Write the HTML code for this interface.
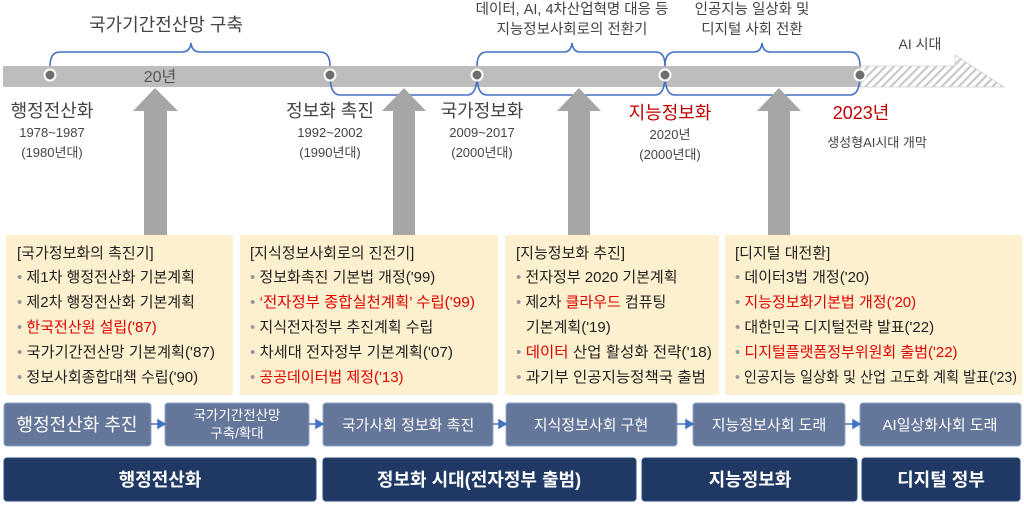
<!DOCTYPE html>
<html><head><meta charset="utf-8"><style>
body{margin:0;width:1024px;height:506px;background:#fff;overflow:hidden;font-family:"Liberation Sans","Noto Sans CJK KR",sans-serif}
svg text{font-family:"Liberation Sans","Noto Sans CJK KR",sans-serif}
</style></head><body>
<svg width="1024" height="506" viewBox="0 0 1024 506" xmlns="http://www.w3.org/2000/svg">
<defs>
<pattern id="h" width="6" height="6" patternUnits="userSpaceOnUse" patternTransform="rotate(45)">
<rect width="6" height="6" fill="#fff"/><rect width="2.2" height="6" fill="#c8c8c8"/></pattern>
</defs>
<rect x="3" y="66" width="858" height="21" fill="#bdbdbd"/>
<polygon points="861,66 955,66 955,55 1004,87 861,87" fill="url(#h)" stroke="#d0d0d0" stroke-width="0.8"/>
<g fill="none" stroke="#4472c4" stroke-width="1.6">
<path d="M50,66 Q50,52 60,52 L182,52 Q190,52 191,43 Q192,52 200,52 L320,52 Q330,52 330,66"/>
<path d="M477,66 Q477,52 487,52 L564,52 Q571,52 572,43 Q573,52 580,52 L656,52 Q665,52 665,66"/>
<path d="M665,66 Q665,52 675,52 L754,52 Q761,52 762,43 Q763,52 770,52 L850,52 Q860,52 860,66"/>
<path d="M330,75 Q330,95 340,95 L467,95 Q477,95 477,75"/>
<path d="M477,75 Q477,95 487,95 L655,95 Q665,95 665,75"/>
<path d="M665,75 Q665,95 675,95 L850,95 Q860,95 860,75"/>
</g>
<g fill="#6e6e6e" stroke="#fff" stroke-width="2">
<circle cx="50" cy="75" r="5.5"/><circle cx="330" cy="75" r="5.5"/><circle cx="477" cy="75" r="5.5"/><circle cx="665" cy="75" r="5.5"/><circle cx="860" cy="75" r="5.5"/>
</g>
<g fill="#444" text-anchor="middle">
<text x="166" y="31" font-size="18">국가기간전산망 구축</text>
<text x="160" y="82" font-size="16" fill="#555">20년</text>
<text x="572" y="14" font-size="14.5">데이터, AI, 4차산업혁명 대응 등</text>
<text x="572" y="34" font-size="14.5">지능정보사회로의 전환기</text>
<text x="752" y="14" font-size="14.5">인공지능 일상화 및</text>
<text x="752" y="34" font-size="14.5">디지털 사회 전환</text>
<text x="920" y="49" font-size="14">AI 시대</text>
<text x="52" y="117" font-size="18">행정전산화</text>
<text x="52" y="137" font-size="13">1978~1987</text>
<text x="52" y="157" font-size="13">(1980년대)</text>
<text x="330" y="117" font-size="18">정보화 촉진</text>
<text x="330" y="137" font-size="13">1992~2002</text>
<text x="330" y="157" font-size="13">(1990년대)</text>
<text x="482" y="117" font-size="18">국가정보화</text>
<text x="482" y="137" font-size="13">2009~2017</text>
<text x="482" y="157" font-size="13">(2000년대)</text>
<text x="670" y="119" font-size="18" fill="#c00000">지능정보화</text>
<text x="670" y="139" font-size="13">2020년</text>
<text x="670" y="159" font-size="13">(2000년대)</text>
<text x="861" y="119" font-size="18" fill="#c00000">2023년</text>
<text x="877" y="147" font-size="13">생성형AI시대 개막</text>
</g>
<g fill="#a6a6a6">
<polygon points="133,111 155,88 178,111 167,111 167,236 144,236 144,111"/>
<polygon points="382,111 404,88 426,111 415,111 415,236 393,236 393,111"/>
<polygon points="557,111 579,88 601,111 590,111 590,236 568,236 568,111"/>
<polygon points="757,111 779,88 801,111 790,111 790,236 768,236 768,111"/>
</g>
<g fill="#fdf0cf">
<rect x="6" y="235" width="227" height="160"/><rect x="240" y="235" width="258" height="160"/>
<rect x="505" y="235" width="214" height="160"/><rect x="725" y="235" width="297" height="160"/>
</g>
<g font-size="15" fill="#222">
<text x="17" y="258">[국가정보화의 촉진기]</text>
<text x="17" y="282"><tspan fill="#999">• </tspan>제1차 행정전산화 기본계획</text>
<text x="17" y="307"><tspan fill="#999">• </tspan>제2차 행정전산화 기본계획</text>
<text x="17" y="332"><tspan fill="#999">• </tspan><tspan fill="#e00000">한국전산원 설립('87)</tspan></text>
<text x="17" y="357" textLength="198" lengthAdjust="spacingAndGlyphs"><tspan fill="#999">• </tspan>국가기간전산망 기본계획('87)</text>
<text x="17" y="382"><tspan fill="#999">• </tspan>정보사회종합대책 수립('90)</text>

<text x="250" y="258">[지식정보사회로의 진전기]</text>
<text x="250" y="282"><tspan fill="#999">• </tspan>정보화촉진 기본법 개정('99)</text>
<text x="250" y="307" textLength="225" lengthAdjust="spacingAndGlyphs"><tspan fill="#999">• </tspan><tspan fill="#e00000">‘전자정부 종합실천계획’ 수립('99)</tspan></text>
<text x="250" y="332"><tspan fill="#999">• </tspan>지식전자정부 추진계획 수립</text>
<text x="250" y="357" textLength="203" lengthAdjust="spacingAndGlyphs"><tspan fill="#999">• </tspan>차세대 전자정부 기본계획('07)</text>
<text x="250" y="382"><tspan fill="#999">• </tspan><tspan fill="#e00000">공공데이터법 제정('13)</tspan></text>

<text x="516" y="258">[지능정보화 추진]</text>
<text x="516" y="282"><tspan fill="#999">• </tspan>전자정부 2020 기본계획</text>
<text x="516" y="307"><tspan fill="#999">• </tspan>제2차 <tspan fill="#e00000">클라우드</tspan> 컴퓨팅</text>
<text x="526" y="332">기본계획('19)</text>
<text x="516" y="357" textLength="196" lengthAdjust="spacingAndGlyphs"><tspan fill="#999">• </tspan><tspan fill="#e00000">데이터</tspan> 산업 활성화 전략('18)</text>
<text x="516" y="382" textLength="190" lengthAdjust="spacingAndGlyphs"><tspan fill="#999">• </tspan>과기부 인공지능정책국 출범</text>

<text x="735" y="258">[디지털 대전환]</text>
<text x="735" y="282"><tspan fill="#999">• </tspan>데이터3법 개정('20)</text>
<text x="735" y="307"><tspan fill="#999">• </tspan><tspan fill="#e00000">지능정보화기본법 개정('20)</tspan></text>
<text x="735" y="332"><tspan fill="#999">• </tspan>대한민국 디지털전략 발표('22)</text>
<text x="735" y="357"><tspan fill="#999">• </tspan><tspan fill="#e00000">디지털플랫폼정부위원회 출범('22)</tspan></text>
<text x="735" y="382" textLength="282" lengthAdjust="spacingAndGlyphs"><tspan fill="#999">• </tspan>인공지능 일상화 및 산업 고도화 계획 발표('23)</text>
</g>
<g fill="#64779b" stroke="#8fa3c8" stroke-width="1">
<rect x="4" y="403" width="147" height="43" rx="3"/><rect x="165" y="403" width="144" height="43" rx="3"/>
<rect x="323" y="403" width="170" height="43" rx="3"/><rect x="506" y="403" width="171" height="43" rx="3"/>
<rect x="693" y="403" width="152" height="43" rx="3"/><rect x="860" y="403" width="161" height="43" rx="3"/>
</g>
<g stroke="#4472c4" stroke-width="1.5" fill="#4472c4">
<line x1="151" y1="424" x2="160" y2="424"/><polygon points="158,420 165,424 158,428"/>
<line x1="309" y1="424" x2="318" y2="424"/><polygon points="316,420 323,424 316,428"/>
<line x1="493" y1="424" x2="501" y2="424"/><polygon points="499,420 506,424 499,428"/>
<line x1="677" y1="424" x2="688" y2="424"/><polygon points="686,420 693,424 686,428"/>
<line x1="845" y1="424" x2="855" y2="424"/><polygon points="853,420 860,424 853,428"/>
</g>
<g fill="#fff" text-anchor="middle">
<text x="77" y="431" font-size="18">행정전산화 추진</text>
<text x="237" y="420" font-size="13.5">국가기간전산망</text>
<text x="237" y="438" font-size="13.5">구축/확대</text>
<text x="408" y="430" font-size="15">국가사회 정보화 촉진</text>
<text x="591" y="430" font-size="15">지식정보사회 구현</text>
<text x="769" y="430" font-size="15">지능정보사회 도래</text>
<text x="940" y="430" font-size="15">AI일상화사회 도래</text>
</g>
<g fill="#1f3864" stroke="#2e4a80" stroke-width="1">
<rect x="4" y="458" width="312" height="43" rx="3"/><rect x="323" y="458" width="313" height="43" rx="3"/>
<rect x="642" y="458" width="215" height="43" rx="3"/><rect x="862" y="458" width="158" height="43" rx="3"/>
</g>
<g fill="#fff" text-anchor="middle" font-size="18" font-weight="bold">
<text x="160" y="486">행정전산화</text>
<text x="479" y="486">정보화 시대(전자정부 출범)</text>
<text x="750" y="486">지능정보화</text>
<text x="941" y="486">디지털 정부</text>
</g>
</svg>
</body></html>
